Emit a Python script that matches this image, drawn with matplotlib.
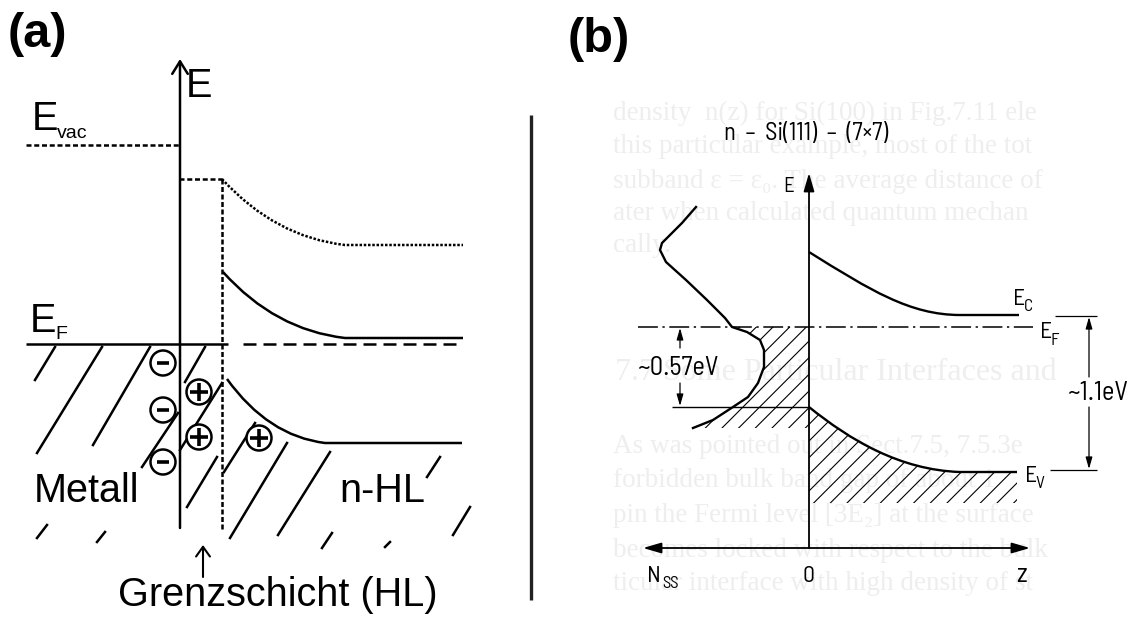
import matplotlib.pyplot as plt
from matplotlib.path import Path
from matplotlib.patches import PathPatch, Circle

plt.rcParams['hatch.linewidth'] = 0.8

# ---------------- panel (a): Metall / n-HL (pixel coords of the sketch) -------------
evac_a = [(26, 145), (179, 145)]
interface_a = [(179, 179), (222, 179)]
barrier_edge_a = [(222, 179), (222, 530)]
vac_curve_a = [(222, 179), (275, 237), (345, 245), (463, 245)]     # dotted
cb_curve_a = [(223, 272), (275, 330), (345, 338), (463, 338)]
vb_curve_a = [(227, 379), (268, 436), (325, 443), (462, 443)]
ef_metal_a = [(26, 344), (228, 344)]
ef_semi_a = [(243, 344), (463, 344)]
e_axis_a = [(180, 528), (180, 59)]

hatch_a = [(35, 380, 55, 347), (37, 453, 102, 347), (93, 445, 150, 347),
           (142, 467, 178, 413), (185, 382, 205, 347), (180, 450, 222, 383),
           (187, 507, 217, 457), (224, 472, 255, 423), (230, 538, 287, 443),
           (278, 535, 330, 452), (322, 548, 332, 533), (427, 477, 440, 457),
           (453, 535, 470, 507), (385, 547, 390, 542), (37, 538, 47, 525),
           (97, 542, 105, 532)]
minus_pos = [(163, 363), (163, 410), (163, 462)]
plus_pos = [(199, 392), (199, 437), (259, 438)]

# ---------------- panel (b): n-Si(111)-(7x7) ---------------------------------------
ec_curve_b = [(809, 252), (870, 290), (910, 315), (960, 315), (1019, 315)]
ev_curve_b = [(809, 407), (850, 440), (900, 470), (960, 472), (1017, 472)]
nss_x = [696, 682, 668, 662, 660, 666, 686, 707, 725, 732, 747, 760, 764, 764,
         758, 748, 733, 713, 693]
nss_y = [207, 223, 237, 243, 250, 262, 280, 300, 318, 327, 332, 340, 350, 367,
         383, 397, 407, 420, 428]
ef_b = [(638, 327), (1033, 327)]
ev_surface_b = [(672, 407), (809, 407)]
hatch_bottom_b = 503
hatch_left_bottom_b = 428

bg_lines = ["density  n(z) for Si(100) in Fig.7.11 ele",
            "this particular example, most of the tot",
            "subband \u03b5 = \u03b5\u2080. The average distance of",
            "ater when calculated quantum mechan",
            "cally.",
            "As was pointed out in Sect.7.5, 7.5.3e",
            "forbidden bulk band gap of about 1",
            "pin the Fermi level [3E\u2082] at the surface",
            "becomes locked with respect to the bulk",
            "ticular interface with high density of st"]
bg_y = [120, 153, 188, 220, 252, 453, 487, 522, 557, 590]

W, H = 1133, 617
fig = plt.figure(figsize=(W / 100, H / 100), dpi=100)
ax = fig.add_axes([0, 0, 1, 1])
ax.set_xlim(0, W)
ax.set_ylim(H, 0)
ax.axis('off')

SANS = ['Liberation Sans', 'DejaVu Sans']
NARROW = ['Barlow Semi Condensed', 'Barlow Condensed', 'DejaVu Sans']

# faint scanned page text behind (b)
for s, y in zip(bg_lines, bg_y):
    ax.text(613, y, s, fontsize=19.5, family=['Liberation Serif', 'DejaVu Serif'],
            color='#eeeeee', va='baseline', zorder=0, clip_on=True)
ax.text(615, 380, "7.7 Some Particular Interfaces and", fontsize=23,
        family=['Liberation Serif', 'DejaVu Serif'], color='#eeeeee',
        va='baseline', zorder=0, clip_on=True)


def seg(pts, **kw):
    xs, ys = zip(*pts)
    ax.plot(xs, ys, color='black', solid_capstyle='butt', **kw)


def bez(pts, **kw):
    codes = [Path.MOVETO, Path.CURVE3, Path.CURVE3] + [Path.LINETO] * (len(pts) - 3)
    ax.add_patch(PathPatch(Path(pts, codes), fill=False, edgecolor='black', **kw))


def bez4(pts, **kw):
    codes = [Path.MOVETO, Path.CURVE4, Path.CURVE4, Path.CURVE4] + [Path.LINETO] * (len(pts) - 4)
    ax.add_patch(PathPatch(Path(pts, codes), fill=False, edgecolor='black', **kw))


def arrow(tail, tip, style, lw, ms=20):
    ax.annotate('', xy=tip, xytext=tail,
                arrowprops=dict(arrowstyle=style, lw=lw, color='black',
                                shrinkA=0, shrinkB=0, mutation_scale=ms))


# ---- (a) ----
lw_a = 1.8
seg(evac_a, lw=lw_a, dashes=(2.0, 1.1))
seg(interface_a, lw=lw_a, dashes=(2.0, 1.1))
seg(barrier_edge_a, lw=lw_a, dashes=(2.0, 1.0))
bez(vac_curve_a, lw=lw_a, linestyle=(0, (1.0, 0.7)))
bez(cb_curve_a, lw=lw_a)
bez(vb_curve_a, lw=lw_a)
seg(ef_metal_a, lw=lw_a)
seg(ef_semi_a, lw=lw_a, dashes=(5.2, 2.8))
arrow(e_axis_a[0], e_axis_a[1], '->,head_length=0.45,head_width=0.28', lw_a)

for x0, y0, x1, y1 in hatch_a:
    ax.plot([x0, x1], [y0, y1], color='black', lw=lw_a, zorder=1)

for cx, cy in minus_pos:
    ax.add_patch(Circle((cx, cy), 12.5, facecolor='white', edgecolor='black', lw=1.8, zorder=3))
    ax.plot(cx, cy, marker='_', ms=8, mew=2.6, color='black', zorder=4)
for cx, cy in plus_pos:
    ax.add_patch(Circle((cx, cy), 12.5, facecolor='white', edgecolor='black', lw=1.8, zorder=3))
    ax.plot(cx, cy, marker='+', ms=13, mew=2.6, color='black', zorder=4)

ax.text(8, 47, "(a)", fontsize=35, fontweight='bold', family=SANS, va='baseline')
ax.text(568, 52, "(b)", fontsize=35, fontweight='bold', family=SANS, va='baseline')
ax.text(186, 97, "E", fontsize=28.5, family=SANS, va='baseline')
ax.text(32, 130, "E", fontsize=28.5, family=SANS, va='baseline')
ax.text(57, 138, "vac", fontsize=14, family=SANS, va='baseline')
ax.text(30, 332, "E", fontsize=28.5, family=SANS, va='baseline')
ax.text(55, 339, "F", fontsize=14, family=SANS, va='baseline')
ax.text(34, 502, "Metall", fontsize=28.5, family=SANS, va='baseline')
ax.text(339, 502, "n-HL", fontsize=28.5, family=SANS, va='baseline')
ax.text(118, 606, "Grenzschicht (HL)", fontsize=28.5, family=SANS, va='baseline')
arrow((203, 577), (203, 545), '->,head_length=0.35,head_width=0.25', 1.5)

# separator
ax.plot([531, 531], [115, 600], color='#222222', lw=2.4, solid_capstyle='butt')

# ---- (b) ----
lw_b = 1.7
ax_lw = 1.3
bez4(ec_curve_b, lw=lw_b)
bez4(ev_curve_b, lw=lw_b)
ax.plot(nss_x, nss_y, color='black', lw=lw_b, solid_joinstyle='round')
seg(ef_b, lw=1.1, dashes=(13, 3, 1.5, 3))
seg(ev_surface_b, lw=1.0)

# hatched filled states: below Ev in the bulk, below EF in the surface states
hv = list(ev_curve_b) + [(ev_curve_b[-1][0], hatch_bottom_b), (809, hatch_bottom_b), (809, 407)]
hcodes = [Path.MOVETO, Path.CURVE4, Path.CURVE4, Path.CURVE4, Path.LINETO,
          Path.LINETO, Path.LINETO, Path.CLOSEPOLY]
ax.add_patch(PathPatch(Path(hv, hcodes), facecolor='none', edgecolor='black',
                       lw=0, hatch='//', zorder=1))
i0 = nss_y.index(327)
left = list(zip(nss_x[i0:], nss_y[i0:])) + [(809, hatch_left_bottom_b), (809, 327)]
ax.fill([p[0] for p in left], [p[1] for p in left], facecolor='none',
        edgecolor='black', lw=0, hatch='//', zorder=1)

arrow((809, 548), (809, 173), '-|>,head_length=0.55,head_width=0.16', ax_lw)
arrow((643, 548), (1030, 548), '<|-|>,head_length=0.55,head_width=0.16', ax_lw)

# energy markers
arrow((680, 348), (680, 328), '-|>,head_length=0.35,head_width=0.1', 0.9)
arrow((680, 383), (680, 406), '-|>,head_length=0.35,head_width=0.1', 0.9)
arrow((1089, 377), (1089, 317), '-|>,head_length=0.35,head_width=0.1', 0.9)
arrow((1089, 407), (1089, 469), '-|>,head_length=0.35,head_width=0.1', 0.9)
seg([(1055, 316), (1097, 316)], lw=0.9)
seg([(1050, 470), (1097, 470)], lw=0.9)

ax.text(806, 140, "n  \u2013  Si(111)  \u2013  (7\u00d77)", fontsize=17.5, family=NARROW,
        ha='center', va='baseline')
ax.text(789, 192, "E", fontsize=15, family=NARROW, ha='center', va='baseline')
ax.text(1013, 305, "E", fontsize=17, family=NARROW, va='baseline')
ax.text(1024, 311, "C", fontsize=12.5, family=NARROW, va='baseline')
ax.text(1040, 338, "E", fontsize=17, family=NARROW, va='baseline')
ax.text(1051, 345, "F", fontsize=12.5, family=NARROW, va='baseline')
ax.text(1025, 482, "E", fontsize=17, family=NARROW, va='baseline')
ax.text(1035, 488, "V", fontsize=12.5, family=NARROW, va='baseline')
ax.text(637, 375, "~0.57eV", fontsize=19, family=NARROW, va='baseline')
ax.text(1067, 400, "~1.1eV", fontsize=19, family=NARROW, va='baseline')
ax.text(647, 582, "N", fontsize=17, family=NARROW, va='baseline')
ax.text(662, 588, "SS", fontsize=12, family=NARROW, va='baseline')
ax.text(809, 582, "0", fontsize=17, family=NARROW, ha='center', va='baseline')
ax.text(1021, 582, "z", fontsize=19, family=NARROW, ha='center', va='baseline')

fig.savefig("out.png", dpi=100)
